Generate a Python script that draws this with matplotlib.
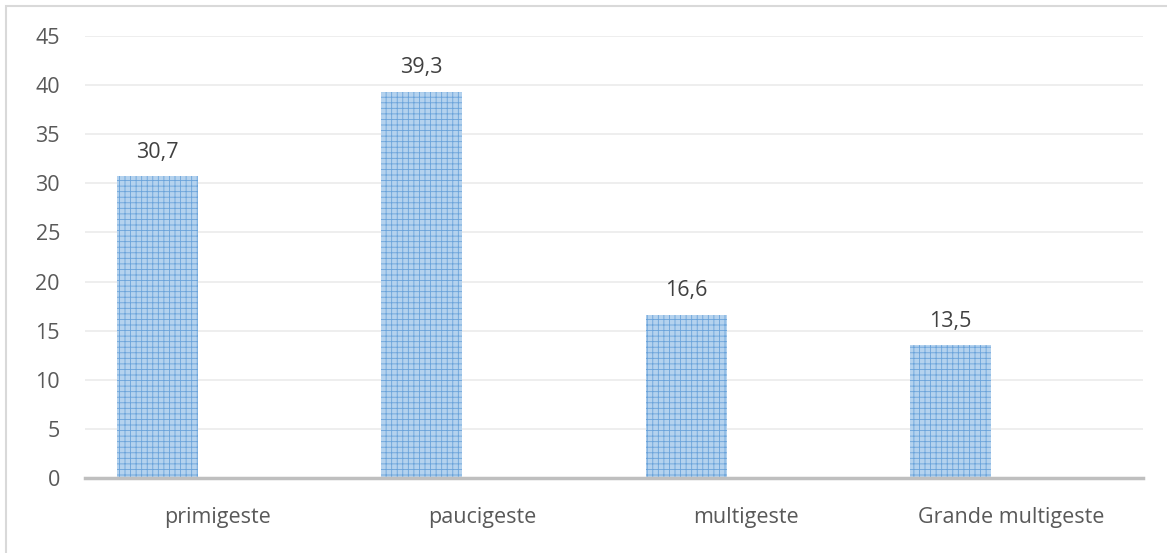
import matplotlib
matplotlib.use("Agg")
import matplotlib.pyplot as plt
import numpy as np

categories = ["primigeste", "paucigeste", "multigeste", "Grande multigeste"]
values = [30.7, 39.3, 16.6, 13.5]
value_labels = ["30,7", "39,3", "16,6", "13,5"]
yticks = [0, 5, 10, 15, 20, 25, 30, 35, 40, 45]

plt.rcParams['font.family'] = ['Open Sans', 'DejaVu Sans']
plt.rcParams['hatch.linewidth'] = 0.6

W, H = 1167, 553
fig = plt.figure(figsize=(W / 100, H / 100), dpi=100)
# outer chart border (light grey)
fig.patches.append(plt.Rectangle((6 / W, -0.1), 1.2, (H - 6) / H + 0.1, transform=fig.transFigure,
                                 fill=False, edgecolor='#D9D9D9', linewidth=1.5))

ax = fig.add_axes([85 / W, 1 - 478 / H, (1143 - 85) / W, (478 - 36) / H])
x = np.arange(len(categories))
bars = ax.bar(x - 0.227, values, width=0.306, color='#B4D2EE', edgecolor='#6AA3DA',
              hatch='+++', linewidth=0, zorder=3)
for xi, v, lab in zip(x, values, value_labels):
    ax.annotate(lab, (xi - 0.227, v), xytext=(0, 10), textcoords='offset points',
                ha='center', va='bottom', fontsize=15.5, color='#404040')

ax.set_xlim(-0.5, len(categories) - 0.5)
ax.set_ylim(0, 45)
ax.set_yticks(yticks)
ax.set_yticklabels([str(t) for t in yticks])
ax.set_xticks(x)
ax.set_xticklabels(categories)
ax.tick_params(axis='y', length=0, pad=18, labelsize=15.5, labelcolor='#595959')
ax.tick_params(axis='x', length=0, pad=21, labelsize=15.5, labelcolor='#595959')
ax.grid(axis='y', color='#EBEBEB', linewidth=1.2, zorder=0)
for s in ['top', 'right', 'left']:
    ax.spines[s].set_visible(False)
ax.spines['bottom'].set_color('#BFBFBF')
ax.spines['bottom'].set_linewidth(2.5)
ax.spines['bottom'].set_zorder(4)
ax.set_facecolor('white')

fig.savefig("out.png", dpi=100)
